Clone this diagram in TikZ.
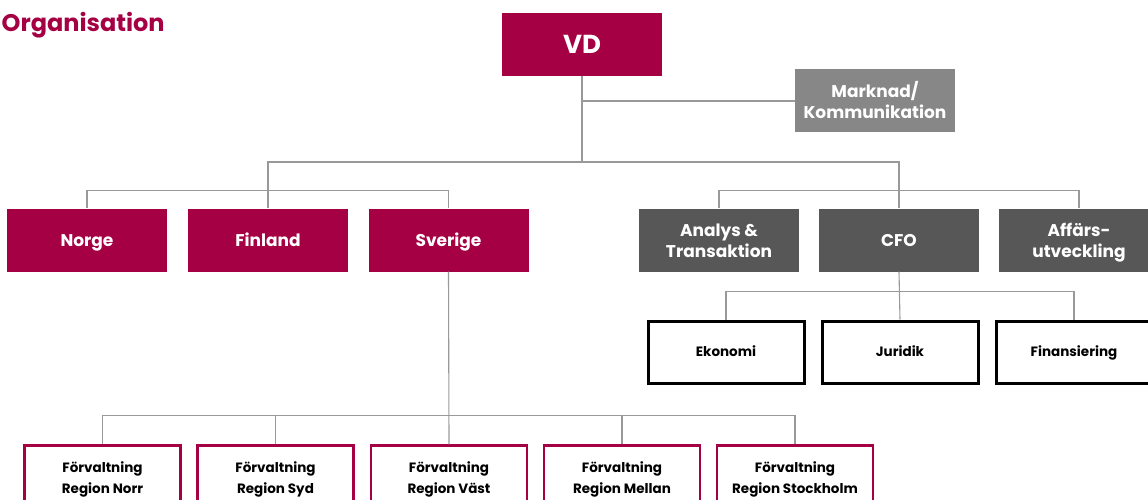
\documentclass[tikz,border=0pt]{standalone}
\usepackage{fontspec}
\setmainfont{Poppins}
\usepackage{xcolor}
\usepackage{tikz}
\usetikzlibrary{positioning, calc}

\definecolor{krimson}{HTML}{A50044}
\definecolor{morkgra}{HTML}{575757}
\definecolor{mellangra}{HTML}{878787}
\definecolor{linjegra}{HTML}{999999}

% lika hog text i alla rutor
\newcommand{\stod}{\vphantom{Åg}}
\newcommand{\hog}{\rule{0pt}{1.05em}}
\newcommand{\reghog}{\rule{0pt}{1.2em}}

\begin{document}
\begin{tikzpicture}[x=1pt, y=-1pt,
    chef/.style={fill=krimson, text=white, minimum width=160pt, minimum height=63pt, font=\fontsize{17}{21}\selectfont\bfseries, align=center, inner sep=0pt, execute at begin node=\stod, execute at end node=\stod},
    stab/.style={chef, fill=morkgra},
    region/.style={draw=krimson, line width=2.5pt, fill=white, minimum width=156pt, minimum height=62pt, font=\fontsize{13.5}{21}\selectfont\bfseries, align=center, inner sep=0pt, execute at begin node=\stod, execute at end node=\stod},
    enhet/.style={region, draw=black, line width=3pt},
    conn/.style={draw=linjegra, line width=1.1pt}]
    \useasboundingbox (0,0) rectangle (1148,500);

    \node[krimson, font=\fontsize{24}{28}\selectfont\bfseries, anchor=base west, inner sep=0pt] (titel) at (1.5,31.5) {Organisation};

    % ledning
    \node[chef, font=\fontsize{26}{30}\selectfont\bfseries] (vd) at (582,44.5) {VD};
    \node[stab, fill=mellangra] (mk) at (875,101) {\hog Marknad/\\Kommunikation};

    % lander och staber
    \node[chef] (no) at (87,240) {Norge};
    \node[chef] (fi) at (268,240) {Finland};
    \node[chef] (sv) at (448.5,240) {Sverige};
    \node[stab] (an) at (719,240) {\hog Analys \&\\Transaktion};
    \node[stab] (cfo) at (899,240) {CFO};
    \node[stab] (af) at (1079,240) {\hog Affärs-\\utveckling};

    % under CFO
    \node[enhet] (ek) at (726,352) {Ekonomi};
    \node[enhet] (ju) at (900,352) {Juridik};
    \node[enhet] (fn) at (1074,352) {Finansiering};

    % regioner
    \node[region] (rn) at (102.5,476.5) {\reghog Förvaltning\\Region Norr};
    \node[region] (rsy) at (275.5,476.5) {\reghog Förvaltning\\Region Syd};
    \node[region] (rv) at (449,476.5) {\reghog Förvaltning\\Region Väst};
    \node[region] (rm) at (622,476.5) {\reghog Förvaltning\\Region Mellan};
    \node[region] (rs) at (795,476.5) {\reghog Förvaltning\\Region Stockholm};

    % linjer
    \coordinate (topp) at (582,162);
    \draw[conn] (vd.south) -- (topp);
    \draw[conn] (vd.south |- mk.west) -- (mk.west);
    \draw[conn] (fi.north) |- (topp) -| (cfo.north);
    \draw[conn] (no.north) -- ++(0,-18) -| (sv.north);
    \draw[conn] (an.north) -- ++(0,-18) -| (af.north);
    \draw[conn] (cfo.south) -- (ju.north);
    \draw[conn] (ek.north) -- ++(0,-28) -| (fn.north);
    \draw[conn] (sv.south) -- (rv.north);
    \draw[conn] (rn.north) -- ++(0,-29) -| (rs.north);
    \draw[conn] (rsy.north) -- ++(0,-29);
    \draw[conn] (rm.north) -- ++(0,-29);
\end{tikzpicture}
\end{document}
